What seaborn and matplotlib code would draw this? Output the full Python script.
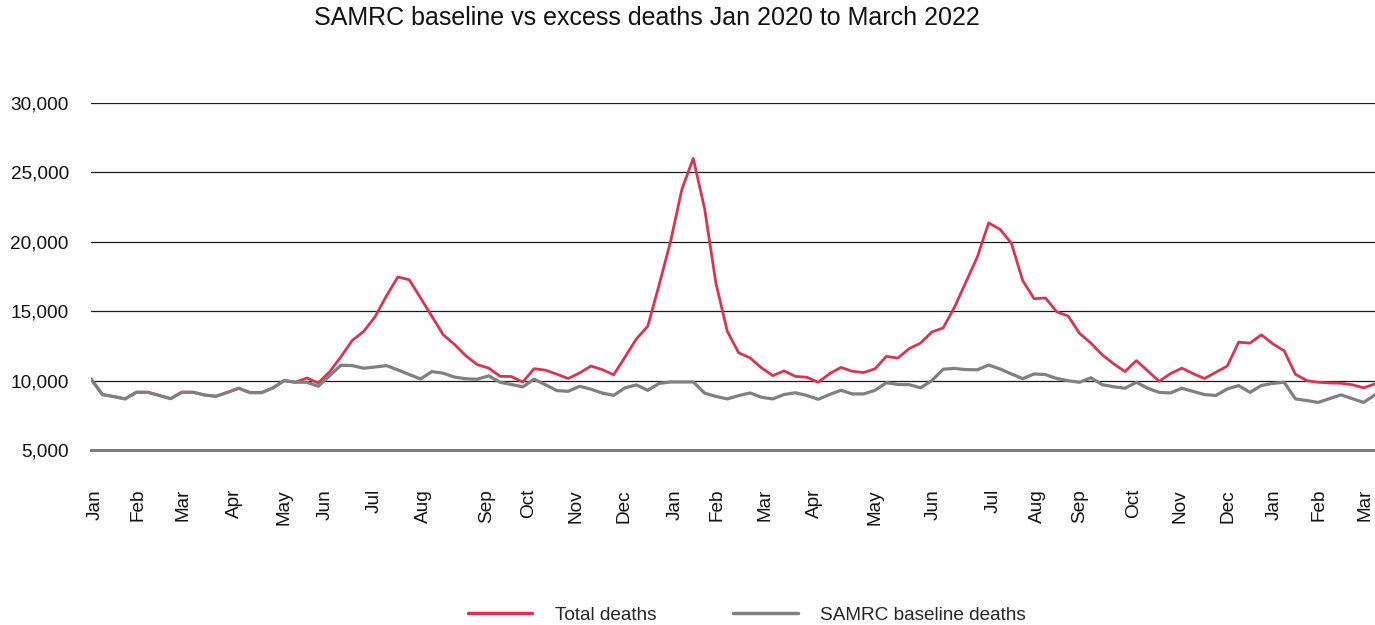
import numpy as np
import pandas as pd
import matplotlib
matplotlib.use("Agg")
import matplotlib.pyplot as plt
from matplotlib.lines import Line2D
import seaborn as sns

# Weekly deaths, first week of January 2020 to March 2022
baseline_deaths = [
    10120, 8990, 8850, 8680, 9160, 9160, 8930, 8700, 9160, 9160,
    8960, 8870, 9150, 9450, 9130, 9130, 9470, 10000, 9880, 9880,
    9590, 10350, 11110, 11080, 10890, 10980, 11080, 10770, 10440, 10120,
    10650, 10530, 10250, 10130, 10100, 10340, 9880, 9720, 9550, 10100,
    9700, 9280, 9230, 9590, 9380, 9100, 8940, 9480, 9690, 9300,
    9800, 9900, 9900, 9900, 9100, 8860, 8680, 8920, 9110, 8800,
    8680, 9000, 9120, 8930, 8650, 9000, 9300, 9040, 9040, 9300,
    9850, 9720, 9710, 9480, 10000, 10820, 10880, 10790, 10780, 11120,
    10840, 10480, 10140, 10480, 10430, 10150, 9990, 9880, 10200, 9700,
    9560, 9450, 9880, 9450, 9150, 9110, 9450, 9220, 8990, 8930,
    9400, 9640, 9150, 9650, 9800, 9880, 8680, 8560, 8430, 8700,
    8970, 8700, 8430, 8970,
]

total_deaths = [
    10120, 8990, 8850, 8680, 9160, 9160, 8930, 8700, 9160, 9160,
    8960, 8870, 9150, 9450, 9130, 9130, 9470, 10000, 9880, 10190,
    9830, 10630, 11720, 12900, 13540, 14600, 16100, 17460, 17270, 15960,
    14630, 13300, 12600, 11780, 11150, 10900, 10310, 10290, 9900, 10860,
    10750, 10460, 10150, 10550, 11050, 10790, 10420, 11700, 13000, 13920,
    16900, 20000, 23770, 26010, 22400, 17000, 13550, 12000, 11640, 10920,
    10360, 10700, 10300, 10240, 9880, 10500, 10950, 10670, 10580, 10850,
    11750, 11620, 12300, 12700, 13500, 13800, 15300, 17100, 18900, 21360,
    20900, 19900, 17200, 15900, 15950, 14950, 14650, 13400, 12700, 11850,
    11210, 10650, 11440, 10700, 9950, 10500, 10900, 10500, 10150, 10600,
    11050, 12770, 12700, 13300, 12650, 12150, 10450, 10000, 9880, 9830,
    9810, 9700, 9480, 9760,
]

month_labels = ["Jan", "Feb", "Mar", "Apr", "May", "Jun", "Jul", "Aug", "Sep",
                "Oct", "Nov", "Dec", "Jan", "Feb", "Mar", "Apr", "May", "Jun",
                "Jul", "Aug", "Sep", "Oct", "Nov", "Dec", "Jan", "Feb", "Mar"]
month_ticks = [0.4, 4.1, 8.1, 12.6, 17.0, 20.6, 24.9, 29.3, 34.8, 38.5, 42.7,
               46.9, 51.4, 55.1, 59.3, 63.7, 69.0, 74.1, 79.4, 83.3, 87.0,
               91.8, 95.8, 100.1, 104.1, 108.1, 112.1]

y_ticks = [5000, 10000, 15000, 20000, 25000, 30000]

series_names = ["Total deaths", "SAMRC baseline deaths"]
series_colors = ["#d93452", "#808080"]

weeks = np.arange(len(total_deaths))
df = pd.DataFrame({
    "week": np.concatenate([weeks, weeks]),
    "deaths": np.concatenate([total_deaths, baseline_deaths]),
    "series": [series_names[0]] * len(weeks) + [series_names[1]] * len(weeks),
})

sns.set_style("white")
plt.rcParams["font.family"] = ["Liberation Sans", "DejaVu Sans"]

fig = plt.figure(figsize=(13.75, 6.25), dpi=100)
W, H = 1375, 625
ax = fig.add_axes([91 / W, (H - 450) / H, (1375 - 91) / W, (450 - 103) / H])

# total deaths underneath, the baseline drawn a touch wider on top of it
sns.lineplot(data=df[df["series"] == series_names[0]], x="week", y="deaths",
             color=series_colors[0], linewidth=2.0, ax=ax, legend=False,
             sort=False)
sns.lineplot(data=df[df["series"] == series_names[1]], x="week", y="deaths",
             color=series_colors[1], linewidth=2.3, ax=ax, legend=False,
             sort=False)

ax.set_xlim(0, len(weeks) - 1)
ax.set_ylim(5000, 30000)
ax.set_yticks(y_ticks)
ax.set_yticklabels([f"{v:,}" for v in y_ticks], fontsize=13.7, color="#111111")
ax.set_xticks(month_ticks)
ax.set_xticklabels(month_labels, rotation=90, fontsize=13.7, color="#111111",
                   va="top", ha="center")
ax.tick_params(axis="y", length=0, pad=16)
ax.tick_params(axis="x", length=0, pad=28)
ax.set_xlabel("")
ax.set_ylabel("")

ax.yaxis.grid(True, color="#1a1a1a", linewidth=0.9)
ax.xaxis.grid(False)
for side in ["top", "left", "right"]:
    ax.spines[side].set_visible(False)
ax.spines["bottom"].set_color("#808080")
ax.spines["bottom"].set_linewidth(2.2)
ax.spines["bottom"].set_zorder(5)
ax.set_axisbelow(True)

fig.text(647 / W, 1 - 18 / H, "SAMRC baseline vs excess deaths Jan 2020 to March 2022",
         ha="center", va="center", fontsize=18, color="#111111")

handles = [Line2D([], [], color=c, linewidth=2.5) for c in series_colors]
fig.legend(handles, series_names, loc="center", bbox_to_anchor=(747 / W, 1 - 615 / H),
           ncol=2, frameon=False, fontsize=13.7, handlelength=3.4,
           handletextpad=1.2, columnspacing=4.0)

fig.savefig("out.png", dpi=100)
